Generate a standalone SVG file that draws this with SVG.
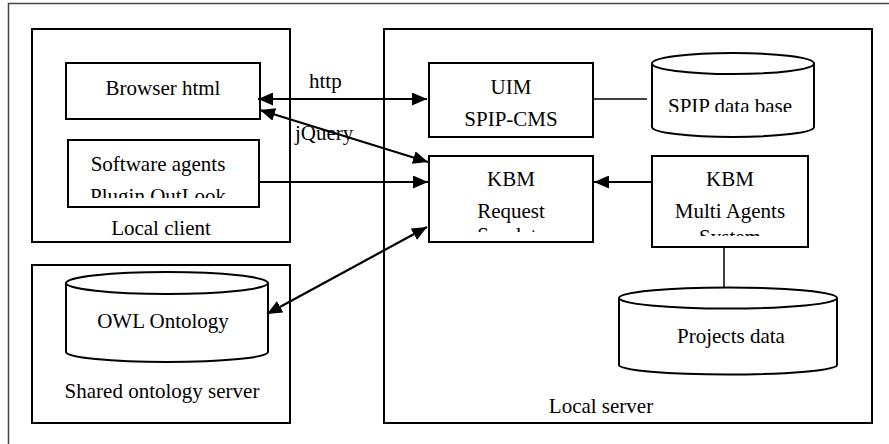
<svg xmlns="http://www.w3.org/2000/svg" width="889" height="444" viewBox="0 0 889 444">
<defs>
<style>
.box{fill:#fff;stroke:#000;stroke-width:2}
.frame{fill:#fff;stroke:#444;stroke-width:1.5}
.t{font-family:"Liberation Serif","Times New Roman",serif;font-size:21px;fill:#000;text-anchor:middle}
.ts{font-family:"Liberation Serif","Times New Roman",serif;font-size:21px;fill:#000}
.conn{fill:none;stroke:#000;stroke-width:2.2}
.thin{fill:none;stroke:#000;stroke-width:1.5}
</style>
<marker id="ah" markerUnits="userSpaceOnUse" markerWidth="15" markerHeight="13" refX="15" refY="6.5" orient="auto-start-reverse">
<path d="M0,0 L15,6.5 L0,13 z" fill="#000"/>
</marker>
<clipPath id="clipSw"><rect x="68" y="140" width="191" height="58"/></clipPath>
<clipPath id="clipReq"><rect x="429" y="156" width="164" height="76"/></clipPath>
<clipPath id="clipMas"><rect x="652" y="156" width="156" height="80"/></clipPath>
<clipPath id="clipSpip"><rect x="652" y="70" width="162" height="42"/></clipPath>
</defs>
<rect class="frame" x="8.5" y="3.5" width="900" height="460"/>

<g id="local-client">
<rect class="box" x="32" y="29" width="258" height="213"/>
<text class="t" x="161" y="235">Local client</text>
</g>
<g id="local-server">
<rect class="box" x="384" y="29" width="488" height="394"/>
<text class="t" x="601" y="413">Local server</text>
</g>
<g id="shared-ontology-server">
<rect class="box" x="32" y="265" width="258" height="158"/>
<text class="t" x="162" y="398">Shared ontology server</text>
</g>

<g id="browser-html">
<rect class="box" x="66" y="63" width="194" height="56"/>
<text class="t" x="163" y="95">Browser html</text>
</g>
<g id="software-agents">
<rect class="box" x="68" y="140" width="191" height="67"/>
<g clip-path="url(#clipSw)">
<text class="t" x="158" y="171">Software agents</text>
<text class="t" x="158" y="203">Plugin OutLook</text>
</g>
</g>
<g id="uim">
<rect class="box" x="429" y="63" width="164" height="74"/>
<text class="t" x="511" y="94">UIM</text>
<text class="t" x="511" y="126">SPIP-CMS</text>
</g>
<g id="spip-db">
<path class="box" d="M652,63.5 L652,127 A81,10 0 0 0 814,127 L814,63.5"/>
<ellipse class="box" cx="733" cy="63.5" rx="81" ry="10.5"/>
<g clip-path="url(#clipSpip)">
<text class="t" x="730" y="113">SPIP data base</text>
</g>
</g>
<g id="kbm-request">
<rect class="box" x="429" y="156" width="164" height="86"/>
<g clip-path="url(#clipReq)">
<text class="t" x="511" y="186">KBM</text>
<text class="t" x="511" y="218">Request</text>
<text class="t" x="511" y="242">Servlets</text>
</g>
</g>
<g id="kbm-mas">
<rect class="box" x="652" y="156" width="156" height="91"/>
<g clip-path="url(#clipMas)">
<text class="t" x="730" y="186">KBM</text>
<text class="t" x="730" y="218">Multi Agents</text>
<text class="t" x="730" y="244">System</text>
</g>
</g>
<g id="projects-data">
<path class="box" d="M619,298 L619,365 A109,9.5 0 0 0 837,365 L837,298"/>
<ellipse class="box" cx="728" cy="298" rx="109" ry="10.5"/>
<text class="t" x="731" y="343">Projects data</text>
</g>
<g id="owl-ontology">
<path class="box" d="M66,283 L66,352 A101,10 0 0 0 268,352 L268,283"/>
<ellipse class="box" cx="167" cy="283" rx="101" ry="11"/>
<text class="t" x="163" y="328">OWL Ontology</text>
</g>

<g id="connectors">
<line class="conn" x1="258" y1="99" x2="427" y2="99" marker-start="url(#ah)" marker-end="url(#ah)"/>
<text class="ts" x="309" y="88">http</text>
<text class="ts" x="295" y="140">jQuery</text>
<line class="conn" x1="260" y1="110" x2="428" y2="162" marker-start="url(#ah)" marker-end="url(#ah)"/>
<line class="conn" x1="259" y1="182" x2="428" y2="182" marker-end="url(#ah)"/>
<line class="conn" x1="652" y1="182" x2="594" y2="182" marker-end="url(#ah)"/>
<line class="conn" x1="267" y1="314" x2="427" y2="227" marker-start="url(#ah)" marker-end="url(#ah)"/>
<line class="thin" x1="593" y1="99" x2="647" y2="99"/>
<line class="thin" x1="724" y1="247" x2="724" y2="288"/>
</g>
</svg>
